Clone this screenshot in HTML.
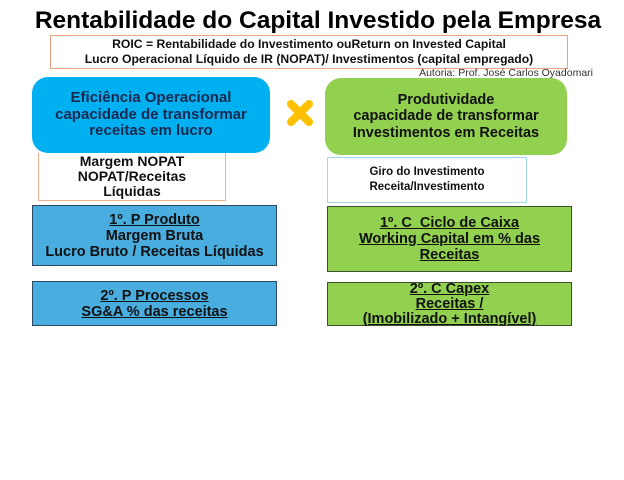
<!DOCTYPE html>
<html><head><meta charset="utf-8"><style>
body{margin:0;width:624px;height:480px;background:#fff;position:relative;overflow:hidden;font-family:"Liberation Sans",Arial,sans-serif;font-weight:bold}
.a{position:absolute;box-sizing:border-box;display:flex;flex-direction:column;justify-content:center;align-items:center;text-align:center;white-space:nowrap}
u{text-decoration:underline}
</style></head><body>
<div class="a" style="left:0;top:6px;width:636px;height:30px;font-size:24.5px;color:#000">Rentabilidade do Capital Investido pela Empresa</div>
<div class="a" style="left:50px;top:35px;width:518px;height:34px;border:1.5px solid #f0a080;font-size:12.2px;line-height:15px;color:#111">ROIC = Rentabilidade do Investimento ouReturn on Invested Capital<br>Lucro Operacional Líquido de IR (NOPAT)/ Investimentos (capital empregado)</div>
<div style="position:absolute;right:31px;top:67px;font-size:10.5px;font-weight:normal;color:#333">Autoria: Prof. José Carlos Oyadomari</div>
<div class="a" style="left:32px;top:77px;width:238px;height:76px;background:#00b0f0;border-radius:16px;font-size:15px;line-height:16.5px;color:#1a2850">Eficiência Operacional<br>capacidade de transformar<br>receitas em lucro</div>
<svg style="position:absolute;left:286px;top:99px" width="28" height="28"><path d="M5 5L23 23M23 5L5 23" stroke="#ffc000" stroke-width="8" stroke-linecap="round"/></svg>
<div class="a" style="left:325px;top:78px;width:242px;height:77px;background:#92d050;border-radius:16px;font-size:14.5px;line-height:16.5px;color:#111">Produtividade<br>capacidade de transformar<br>Investimentos em Receitas</div>
<div class="a" style="left:38px;top:153px;width:188px;height:48px;border:1.5px solid #f0b090;border-top:none;font-size:14px;line-height:15px;color:#111">Margem NOPAT<br>NOPAT/Receitas<br>Líquidas</div>
<div class="a" style="left:327px;top:157px;width:200px;height:46px;border:1.5px solid #9fd8ee;font-size:11.5px;line-height:15px;color:#111">Giro do Investimento<br>Receita/Investimento</div>
<div class="a" style="left:32px;top:205px;width:245px;height:61px;background:#49ade0;border:1.5px solid #2e4a62;font-size:14.5px;line-height:16px;color:#111"><u>1º. P Produto</u>Margem Bruta<br>Lucro Bruto / Receitas Líquidas</div>
<div class="a" style="left:327px;top:206px;width:245px;height:66px;background:#92d050;border:1.5px solid #3a5030;font-size:14.5px;line-height:16px;color:#111"><u>1º. C&nbsp; Ciclo de Caixa</u><u>Working Capital em % das</u><u>Receitas</u></div>
<div class="a" style="left:32px;top:281px;width:245px;height:45px;background:#49ade0;border:1.5px solid #2e4a62;font-size:14.5px;line-height:16px;color:#111"><u>2º. P Processos</u><u>SG&amp;A % das receitas</u></div>
<div class="a" style="left:327px;top:282px;width:245px;height:44px;background:#92d050;border:1.5px solid #3a5030;font-size:14.5px;line-height:15px;color:#111"><u>2º. C Capex</u><u>Receitas /</u><u>(Imobilizado + Intangível)</u></div>
</body></html>
